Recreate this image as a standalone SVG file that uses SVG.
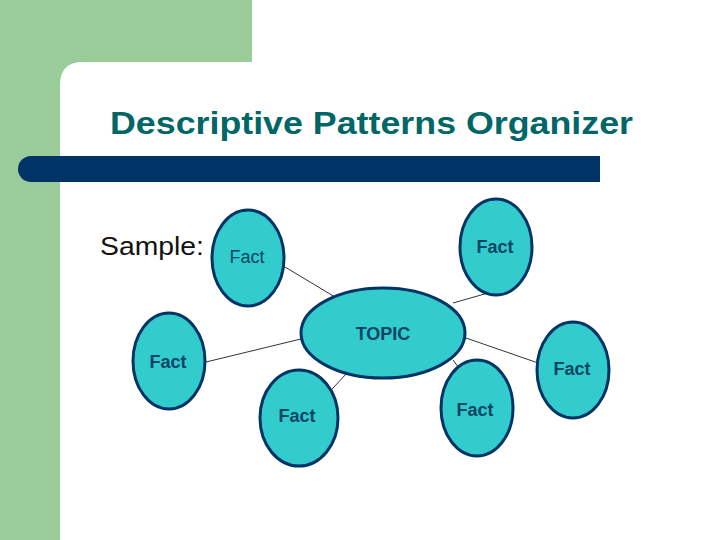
<svg xmlns="http://www.w3.org/2000/svg" width="720" height="540" viewBox="0 0 720 540">
<style>
.n{fill:#33CCCC;stroke:#003366;stroke-width:3}
.t{font-family:"Liberation Sans",Arial,sans-serif;font-weight:bold;font-size:18px;fill:#004466;text-anchor:middle}
.c line{stroke:#333;stroke-width:1}
</style>
<rect width="720" height="540" fill="#fff"/>
<rect x="0" y="0" width="252" height="540" fill="#99CC99"/>
<path d="M60 540V85Q60 62 83 62H720V540Z" fill="#fff"/>
<text x="110" y="134" font-family="Liberation Sans,Arial,sans-serif" font-weight="bold" font-size="32" fill="#006666" textLength="523" lengthAdjust="spacingAndGlyphs">Descriptive Patterns Organizer</text>
<path d="M31 156H600V182H31A13 13 0 0 1 31 156Z" fill="#003366"/>
<text x="100" y="255" font-family="Liberation Sans,Arial,sans-serif" font-size="26" fill="#111" textLength="104" lengthAdjust="spacingAndGlyphs">Sample:</text>
<g class="c" id="connectors">
<line x1="285" y1="267" x2="335" y2="297"/>
<line x1="453" y1="303" x2="488" y2="293"/>
<line x1="206" y1="362" x2="305" y2="338"/>
<line x1="466" y1="338" x2="541" y2="364"/>
<line x1="346" y1="374" x2="322" y2="400"/>
<line x1="453" y1="360" x2="470" y2="383"/>
</g>
<g id="topic"><ellipse class="n" cx="383" cy="333" rx="82" ry="45"/><text class="t" x="383" y="340">TOPIC</text></g>
<g id="f1"><ellipse class="n" cx="248" cy="258" rx="36" ry="48"/><text class="t" x="247" y="263" style="font-weight:normal">Fact</text></g>
<g id="f2"><ellipse class="n" cx="496" cy="247" rx="36" ry="48"/><text class="t" x="495" y="253">Fact</text></g>
<g id="f3"><ellipse class="n" cx="169" cy="361" rx="36" ry="48"/><text class="t" x="168" y="368">Fact</text></g>
<g id="f4"><ellipse class="n" cx="573" cy="370" rx="36" ry="48"/><text class="t" x="572" y="375">Fact</text></g>
<g id="f5"><ellipse class="n" cx="299" cy="418" rx="39" ry="48"/><text class="t" x="297" y="422">Fact</text></g>
<g id="f6"><ellipse class="n" cx="477" cy="408" rx="36" ry="48"/><text class="t" x="475" y="416">Fact</text></g>
</svg>
